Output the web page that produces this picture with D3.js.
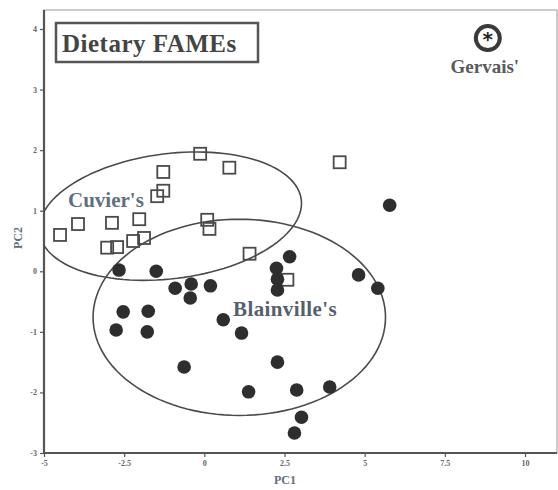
<!DOCTYPE html>
<html><head><meta charset="utf-8">
<script src="https://cdn.jsdelivr.net/npm/d3@7"></script>
<style>body{margin:0;background:#fff}svg{display:block}</style>
</head><body>
<svg id="c" width="558" height="490"></svg>
<script>
// Cuvier's (open squares)
const cuvierX = [-4.50,-3.94,-3.03,-2.72,-2.88,-2.22,-2.03,-1.88,-1.47,-1.28,-1.28,-0.13,0.78,0.09,0.16,1.41,2.59,4.22];
const cuvierY = [0.60,0.78,0.39,0.40,0.80,0.50,0.86,0.55,1.24,1.33,1.64,1.94,1.71,0.85,0.70,0.29,-0.14,1.80];
// Blainville's (filled circles)
const blainX = [-2.66,-1.50,-0.91,-0.41,-0.44,0.19,-2.53,-1.75,-2.75,-1.78,0.59,1.16,-0.63,2.66,2.25,2.28,2.28,4.81,5.41,2.28,1.38,2.88,3.91,3.03,2.81,5.78];
const blainY = [0.02,0.00,-0.28,-0.21,-0.44,-0.24,-0.67,-0.66,-0.97,-1.00,-0.80,-1.02,-1.58,0.24,0.05,-0.13,-0.31,-0.06,-0.28,-1.50,-1.99,-1.96,-1.91,-2.41,-2.67,1.09];
// Gervais' (single point)
const gervaisX = [8.84];
const gervaisY = [3.85];
// Ellipses: center, half-width, half-height, correlation
const ellipseNames = ["Cuvier's","Blainville's"];
const ellipseCX = [-1.06, 1.09];
const ellipseCY = [0.91, -0.76];
const ellipseW = [4.09, 4.56];
const ellipseH = [1.06, 1.62];
const ellipseRho = [0.2, 0.0];
const xTicks = [-5,-2.5,0,2.5,5,7.5,10];
const yTicks = [-3,-2,-1,0,1,2,3,4];

const svg = d3.select("#c");
const x = d3.scaleLinear().domain([-5,10]).range([44,525]);
const y = d3.scaleLinear().domain([-3,4]).range([453,29]);
const L=44, R=557, T=10, B=453;
const gray="#4a4a4a";

svg.append("defs").append("clipPath").attr("id","clip")
  .append("rect").attr("x",L).attr("y",T).attr("width",R-L).attr("height",B-T);

// frame
svg.append("rect").attr("x",L).attr("y",T).attr("width",R-L).attr("height",B-T)
  .attr("fill","none").attr("stroke","#aaa").attr("stroke-width",1.2);

// axes
const xa = svg.append("g").attr("transform",`translate(0,${B})`)
  .call(d3.axisBottom(x).tickValues(xTicks).tickSize(4).tickFormat(d=>String(d)));
const ya = svg.append("g").attr("transform",`translate(${L},0)`)
  .call(d3.axisLeft(y).tickValues(yTicks).tickSize(4).tickFormat(d=>String(d)));
[xa,ya].forEach(g=>{
  g.select(".domain").attr("stroke","#555").attr("stroke-width",2.2);
  g.selectAll(".tick line").attr("stroke","#555").attr("stroke-width",1.2);
  g.selectAll(".tick text").attr("fill","#666").attr("font-family","Liberation Serif").attr("font-weight","bold").attr("font-size",8);
});
ya.select(".domain").attr("d",`M0,${T}V${B}`);
xa.select(".domain").attr("d",`M${L},0H${R}`);

// axis titles
svg.append("text").attr("x",285).attr("y",484).attr("text-anchor","middle")
  .attr("font-family","Liberation Serif").attr("font-weight","bold").attr("font-size",12)
  .attr("fill","#5f6f80").text("PC1");
svg.append("text").attr("transform","translate(22,238) rotate(-90)").attr("text-anchor","middle")
  .attr("font-family","Liberation Serif").attr("font-weight","bold").attr("font-size",12)
  .attr("fill","#5f6f80").text("PC2");

// ellipses
const plot = svg.append("g").attr("clip-path","url(#clip)");
ellipseCX.forEach((cx,i)=>{
  const pts = d3.range(0,361,3).map(a=>{
    const t=a*Math.PI/180, r=ellipseRho[i];
    return [x(cx+ellipseW[i]*Math.cos(t)), y(ellipseCY[i]+ellipseH[i]*(r*Math.cos(t)+Math.sqrt(1-r*r)*Math.sin(t)))];
  });
  plot.append("path").attr("d",d3.line().curve(d3.curveLinearClosed)(pts))
    .attr("fill","none").attr("stroke",gray).attr("stroke-width",1.6);
});

// squares
const s=12;
plot.selectAll("rect.sq").data(cuvierX).join("rect").attr("class","sq")
  .attr("x",(d,i)=>x(d)-s/2).attr("y",(d,i)=>y(cuvierY[i])-s/2)
  .attr("width",s).attr("height",s).attr("fill","none").attr("stroke",gray).attr("stroke-width",1.8);

// circles
plot.selectAll("circle.bl").data(blainX).join("circle").attr("class","bl")
  .attr("cx",d=>x(d)).attr("cy",(d,i)=>y(blainY[i])).attr("r",6.8).attr("fill","#2e2e2e");

// Gervais'
gervaisX.forEach((gx,i)=>{
  const cx=x(gx), cy=y(gervaisY[i]);
  svg.append("circle").attr("cx",cx).attr("cy",cy).attr("r",12).attr("fill","#fff").attr("stroke","#3a3a3a").attr("stroke-width",4);
  svg.append("text").attr("x",cx).attr("y",cy+8).attr("text-anchor","middle")
    .attr("font-family","DejaVu Sans").attr("font-weight","bold").attr("font-size",20).attr("fill","#222").text("*");
  svg.append("text").attr("x",cx-3).attr("y",cy+35).attr("text-anchor","middle")
    .attr("font-family","Liberation Serif").attr("font-weight","bold").attr("font-size",19)
    .attr("fill","#5a5a5a").text("Gervais'");
});

// group labels
svg.append("text").attr("x",68).attr("y",207).attr("font-family","Liberation Serif").attr("font-weight","bold")
  .attr("font-size",21).attr("fill","#5f6f80").text(ellipseNames[0]);
svg.append("text").attr("x",233).attr("y",316).attr("font-family","Liberation Serif").attr("font-weight","bold")
  .attr("font-size",21).attr("letter-spacing",0.4).attr("fill","#55606c").text(ellipseNames[1]);

// title box
svg.append("rect").attr("x",56).attr("y",23).attr("width",202).attr("height",39)
  .attr("fill","#fff").attr("stroke","#555").attr("stroke-width",2.5);
svg.append("text").attr("x",62).attr("y",52).attr("font-family","Liberation Serif").attr("font-weight","bold")
  .attr("font-size",25).attr("letter-spacing",0.5).attr("fill","#444").text("Dietary FAMEs");
</script>
</body></html>
